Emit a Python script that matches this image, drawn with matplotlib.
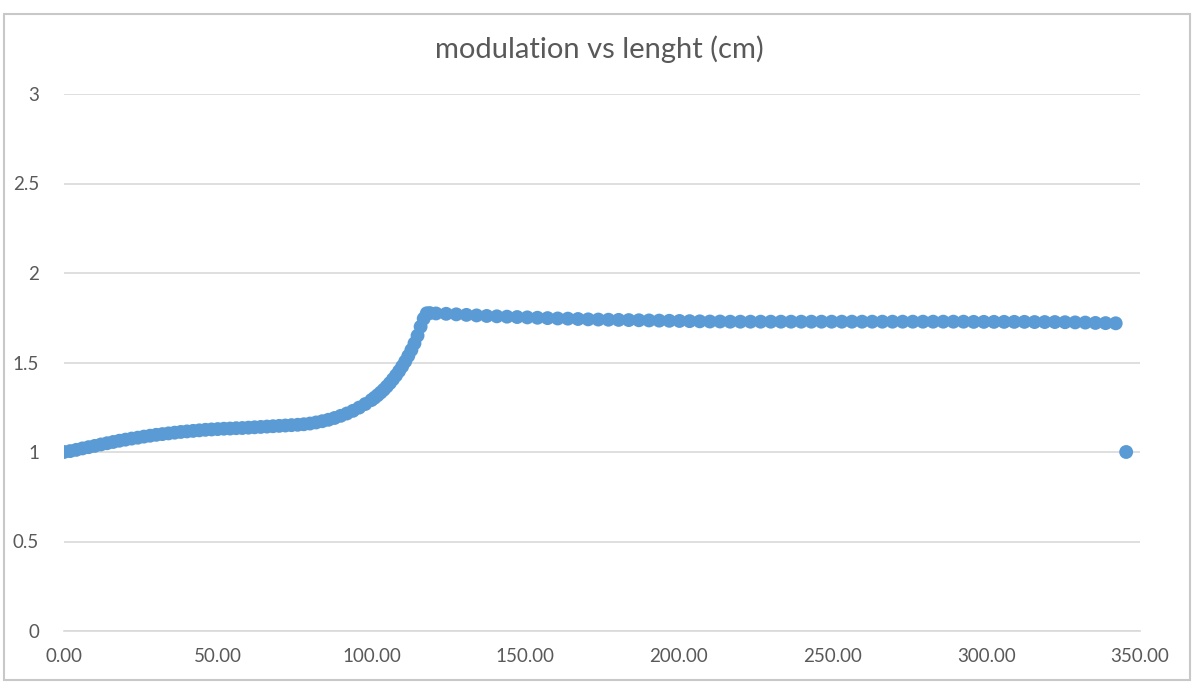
import matplotlib
matplotlib.use("Agg")
import matplotlib.pyplot as plt
from matplotlib.patches import Rectangle

# modulation measured along the length (cm)
length_cm = [
    0, 2, 4, 6, 8, 10, 12, 14, 16, 18, 20, 22, 24, 26, 28, 30, 32, 34, 36, 38,
    40, 42, 44, 46, 48, 50, 52, 54, 56, 58, 60, 62, 64, 66, 68, 70, 72, 74, 76, 78,
    80, 82, 84, 86, 88, 90, 92, 94, 96, 98, 100,
    101, 102, 103, 104, 105, 106, 107, 108, 109, 110, 111, 112, 113, 114, 115,
    116, 117, 118, 119,
    121, 124.3, 127.6, 130.9, 134.2, 137.5, 140.8, 144.1, 147.4, 150.7, 154,
    157.3, 160.6, 163.9, 167.2, 170.5, 173.8, 177.1, 180.4, 183.7, 187, 190.3,
    193.6, 196.9, 200.2, 203.5, 206.8, 210.1, 213.4, 216.7, 220, 223.3, 226.6,
    229.9, 233.2, 236.5, 239.8, 243.1, 246.4, 249.7, 253, 256.3, 259.6, 262.9,
    266.2, 269.5, 272.8, 276.1, 279.4, 282.7, 286, 289.3, 292.6, 295.9, 299.2,
    302.5, 305.8, 309.1, 312.4, 315.7, 319, 322.3, 325.6, 328.9, 332.2, 335.5,
    338.8, 342.1,
    345.5,
]
modulation = [
    1.000, 1.005, 1.012, 1.020, 1.027, 1.034, 1.042, 1.049, 1.056, 1.063,
    1.069, 1.075, 1.080, 1.086, 1.091, 1.096, 1.100, 1.104, 1.108, 1.112,
    1.115, 1.118, 1.121, 1.124, 1.126, 1.128, 1.130, 1.131, 1.133, 1.134,
    1.136, 1.138, 1.140, 1.142, 1.144, 1.146, 1.148, 1.150, 1.152, 1.155,
    1.159, 1.165, 1.172, 1.180, 1.190, 1.202, 1.215, 1.230, 1.248, 1.268, 1.290,
    1.303, 1.317, 1.332, 1.348, 1.366, 1.385, 1.406, 1.428, 1.452, 1.478,
    1.506, 1.537, 1.570, 1.607, 1.650, 1.700, 1.745, 1.775, 1.776,
    1.774, 1.772, 1.769, 1.766, 1.763, 1.760, 1.758, 1.756, 1.754, 1.752, 1.750,
    1.748, 1.746, 1.745, 1.743, 1.741, 1.740, 1.739, 1.738, 1.737, 1.736, 1.735,
    1.734, 1.733, 1.732, 1.731, 1.730, 1.729, 1.729, 1.728, 1.728, 1.728, 1.728,
    1.728, 1.728, 1.728, 1.728, 1.728, 1.728, 1.728, 1.728, 1.728, 1.728, 1.728,
    1.728, 1.728, 1.728, 1.728, 1.728, 1.728, 1.728, 1.728, 1.728, 1.727, 1.727,
    1.727, 1.727, 1.727, 1.727, 1.726, 1.726, 1.726, 1.725, 1.724, 1.723, 1.721,
    1.720, 1.719,
    1.000,
]

x_ticks = [0, 50, 100, 150, 200, 250, 300, 350]
y_ticks = [0, 0.5, 1, 1.5, 2, 2.5, 3]

W, H = 1203, 684
fig = plt.figure(figsize=(W / 100, H / 100), dpi=100)
plt.rcParams["font.family"] = ["Lato", "DejaVu Sans"]
text_grey = "#595959"
grid_grey = "#d9d9d9"

# chart area outline
fig.patches.append(Rectangle((4 / W, 4 / H), (1190 - 4) / W, (670 - 4) / H,
                             transform=fig.transFigure, fill=False,
                             edgecolor="#c8c8c8", lw=1.5))

ax = fig.add_axes([64 / W, 1 - 631 / H, (1140 - 64) / W, (631 - 94) / H])
ax.scatter(length_cm, modulation, s=100, color="#5b9bd5", edgecolors="none",
           zorder=3)

ax.set_xlim(0, 350)
ax.set_ylim(0, 3)
ax.set_xticks(x_ticks)
ax.set_xticklabels([f"{v:.2f}" for v in x_ticks])
ax.set_yticks(y_ticks)
ax.set_yticklabels([f"{v:g}" for v in y_ticks])
ax.tick_params(length=0, labelsize=13.5, colors=text_grey)
ax.tick_params(axis="x", pad=12)
ax.tick_params(axis="y", pad=18)
for lbl in ax.get_yticklabels():
    lbl.set_horizontalalignment("right")

ax.grid(axis="y", color=grid_grey, lw=1.2)
ax.set_axisbelow(True)
for side in ("left", "right", "top"):
    ax.spines[side].set_visible(False)
ax.spines["bottom"].set_color(grid_grey)
ax.spines["bottom"].set_linewidth(1.2)

fig.text(599 / W, 1 - 49 / H, "modulation vs lenght (cm)", ha="center",
         va="center", fontsize=21, color=text_grey)

fig.savefig("out.png", dpi=100)
